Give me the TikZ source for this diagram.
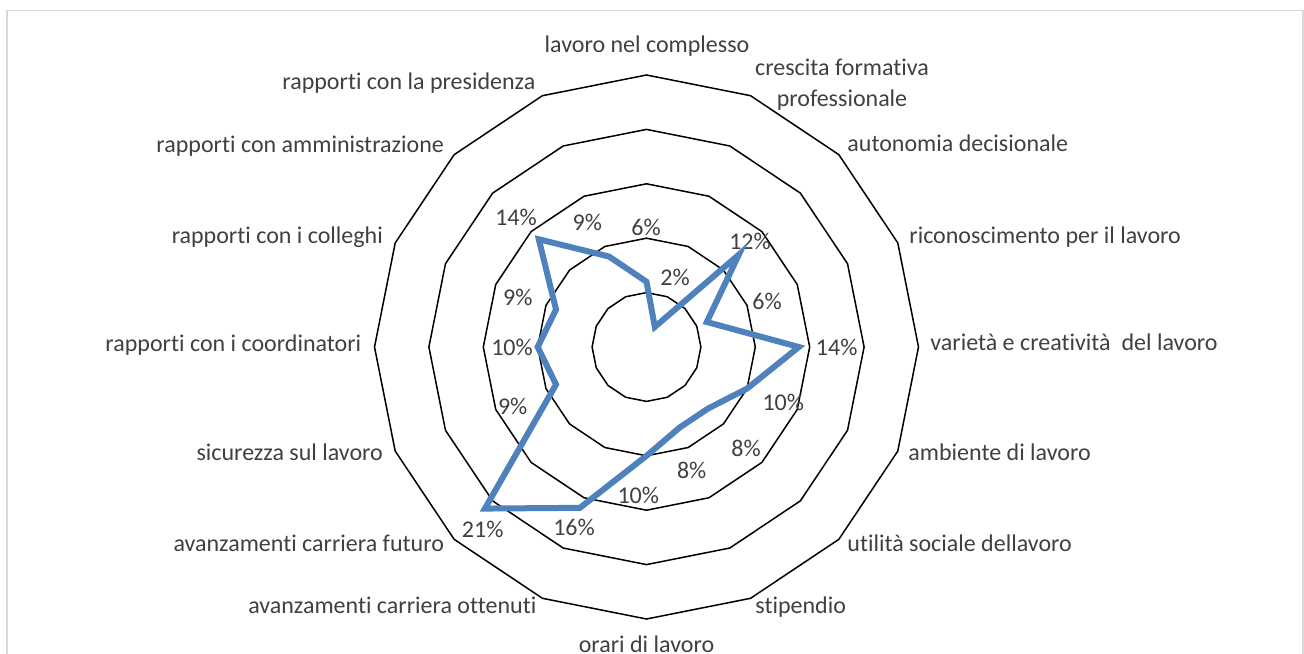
\documentclass[tikz,border=0pt]{standalone}
\usepackage{fontspec}
\setmainfont{Carlito}[Ligatures=NoCommon]
\definecolor{txtgray}{HTML}{404040}
\definecolor{serieblue}{HTML}{4F81BD}
\definecolor{framegray}{HTML}{D9D9D9}
\begin{document}
\begin{tikzpicture}[x=0.5pt,y=0.5pt,
  ring/.style={draw=black,line width=0.75pt},
  serie/.style={draw=serieblue,line width=3pt},
  axlabel/.style={inner sep=0pt,text=txtgray,font=\fontsize{12pt}{15.5pt}\selectfont},
  pct/.style={inner sep=0pt,text=txtgray,font=\fontsize{12pt}{15.5pt}\selectfont}]

		\useasboundingbox (-646.5,-306) rectangle (657.5,347);
		\draw [framegray,line width=0.8pt] (-639.5,336.5) rectangle (656.2,-330);

		% rings, 5% each
		\foreach \k in {1,...,5}
			\draw [ring] (90:{54.4*\k}) \foreach \i in {1,...,15}{ -- ({90-22.5*\i}:{54.4*\k})} -- cycle;

		% values and their labels
		\foreach \v/\lx/\ly [count=\i from 0] in {6/-0.5/119.7, 2/28.5/69.7, 12/103.5/105.3, 6/120.5/45.3,
				14/190.2/-0.3, 10/136.8/-55.7, 8/99.5/-101.3, 8/45.2/-123, 10/-8.2/-148, 16/-72.5/-180.3,
				21/-163.8/-182.3, 9/-133.8/-59.7, 10/-134.5/0, 9/-128.7/49.7, 14/-130.5/129.7, 9/-59.2/124.3}{
			\coordinate (d\i) at ({90-22.5*\i}:{10.88*\v});
			\node [pct] (q\i) at (\lx,\ly) {\v\%};
		}
		\draw [serie] (d0) \foreach \i in {1,...,15}{ -- (d\i)} -- cycle;

		% axis labels
		\node [axlabel,anchor=mid] (a0) at (0.5,299) {lavoro nel complesso};
		\node [axlabel,align=center] (a1) at (195.5,262.5) {crescita formativa\\professionale};
		\node [axlabel,anchor=mid west] (a2) at (200.5,200.3) {autonomia decisionale};
		\node [axlabel,anchor=mid west] (a3) at (262.5,108) {riconoscimento per il lavoro};
		\node [axlabel,anchor=mid west] (a4) at (283.5,1) {varietà e creatività~ del lavoro};
		\node [axlabel,anchor=mid west] (a5) at (261.5,-109) {ambiente di lavoro};
		\node [axlabel,anchor=mid west] (a6) at (200.5,-199.7) {utilità sociale dellavoro};
		\node [axlabel,anchor=mid west] (a7) at (108.5,-261.3) {stipendio};
		\node [axlabel,anchor=mid] (a8) at (0,-301) {orari di lavoro};
		\node [axlabel,anchor=mid east] (a9) at (-109.8,-261.3) {avanzamenti carriera ottenuti};
		\node [axlabel,anchor=mid east] (a10) at (-202.2,-199.7) {avanzamenti carriera futuro};
		\node [axlabel,anchor=mid east] (a11) at (-263.2,-109) {sicurezza sul lavoro};
		\node [axlabel,anchor=mid east] (a12) at (-284.8,0.3) {rapporti con i coordinatori};
		\node [axlabel,anchor=mid east] (a13) at (-263.2,108) {rapporti con i colleghi};
		\node [axlabel,anchor=mid east] (a14) at (-202.2,199.7) {rapporti con amministrazione};
		\node [axlabel,anchor=mid east] (a15) at (-110.8,262) {rapporti con la presidenza};
\end{tikzpicture}
\end{document}
